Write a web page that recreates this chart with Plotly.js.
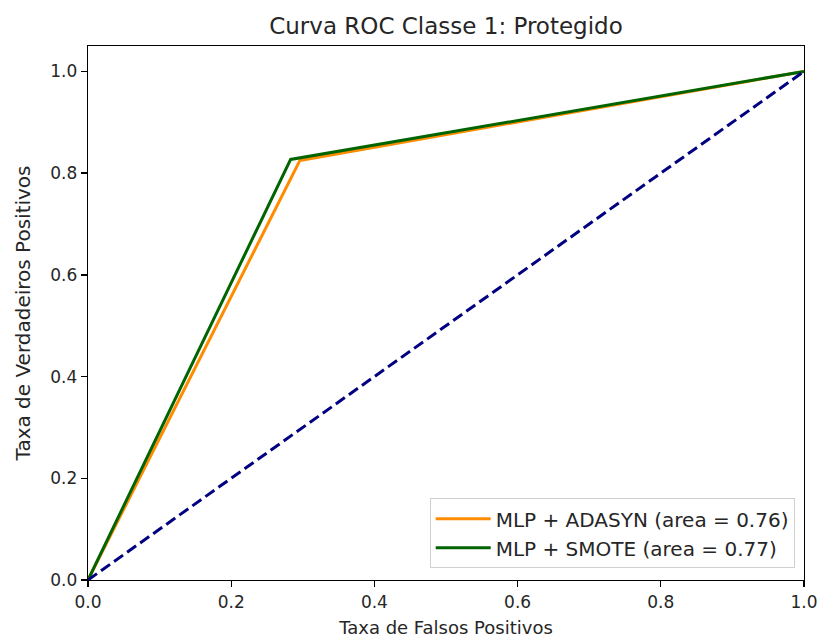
<!DOCTYPE html>
<html>
<head>
<meta charset="utf-8">
<script src="https://cdn.plot.ly/plotly-3.0.1.min.js"></script>
<style>html,body{margin:0;padding:0;background:#fff;}#chart{width:821px;height:642px;}</style>
</head>
<body>
<div id="chart"></div>
<script>
// ROC curve points (false positive rate / true positive rate) for each model
const fprAdasyn = [0.0, 0.296, 1.0];
const tprAdasyn = [0.0, 0.825, 1.0];
const fprSmote = [0.0, 0.283, 1.0];
const tprSmote = [0.0, 0.827, 1.0];
const chanceLine = [0.0, 1.0];
const seriesNames = ['MLP + ADASYN (area = 0.76)', 'MLP + SMOTE (area = 0.77)'];
const tickVals = [0.0, 0.2, 0.4, 0.6, 0.8, 1.0];
const tickText = ['0.0', '0.2', '0.4', '0.6', '0.8', '1.0'];

const font = 'DejaVu Sans, sans-serif';
const ink = '#262626';

const traces = [
  {x: fprAdasyn, y: tprAdasyn, mode: 'lines', name: seriesNames[0],
   line: {color: '#ff8c00', width: 3}},
  {x: fprSmote, y: tprSmote, mode: 'lines', name: seriesNames[1],
   line: {color: '#006400', width: 3}},
  {x: chanceLine, y: chanceLine, mode: 'lines', showlegend: false,
   line: {color: '#000080', width: 3, dash: '11px,5px'}}
];

const axisCommon = {
  showgrid: false, zeroline: false, showline: true, mirror: true,
  linecolor: '#000', linewidth: 1.3, ticks: 'outside', ticklen: 6,
  tickwidth: 1.3, tickcolor: '#000', tickvals: tickVals, ticktext: tickText,
  tickfont: {family: font, size: 17, color: ink}
};

const layout = {
  width: 821, height: 642,
  margin: {l: 88, r: 17, t: 46, b: 62},
  paper_bgcolor: '#fff', plot_bgcolor: '#fff',
  title: {text: 'Curva ROC Classe 1: Protegido', xref: 'paper', x: 0.5, xanchor: 'center',
          y: 0.96, yanchor: 'middle', font: {family: font, size: 23, color: ink}},
  xaxis: Object.assign({}, axisCommon, {range: [0, 1],
    title: {text: 'Taxa de Falsos Positivos', standoff: 10, font: {family: font, size: 18, color: ink}}}),
  yaxis: Object.assign({}, axisCommon, {range: [0, 1.05],
    title: {text: 'Taxa de Verdadeiros Positivos', standoff: 14, font: {family: font, size: 20, color: ink}}}),
  legend: {x: 0.987, y: 0.022, xanchor: 'right', yanchor: 'bottom',
           bgcolor: 'rgba(255,255,255,0.8)', bordercolor: '#d0d0d0', borderwidth: 1,
           font: {family: font, size: 20, color: ink}, tracegroupgap: 0, itemwidth: 55},
  showlegend: true
};

Plotly.newPlot('chart', traces, layout, {displayModeBar: false, staticPlot: true});
</script>
</body>
</html>
